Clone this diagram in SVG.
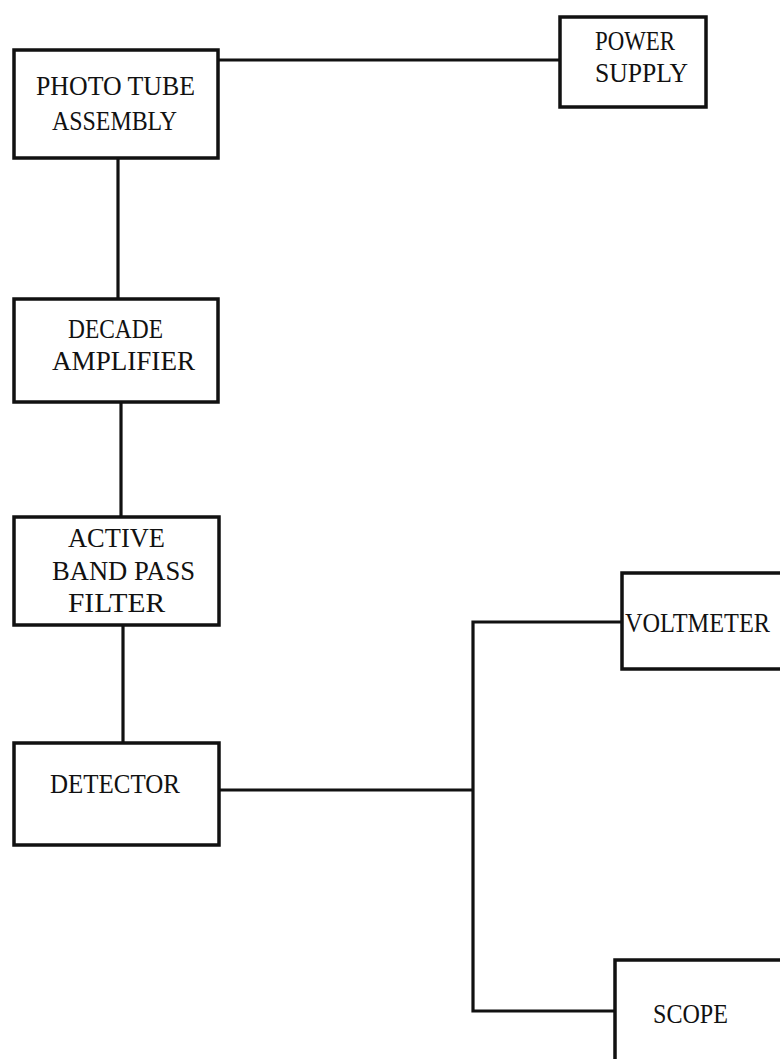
<svg xmlns="http://www.w3.org/2000/svg" width="780" height="1059" viewBox="0 0 780 1059">
<style>
.box{fill:#fff;stroke:#111;stroke-width:3.5}
.wire{fill:none;stroke:#111;stroke-width:3.2}
text{font-family:"Liberation Serif","Times New Roman",serif;font-size:27px;fill:#111}
</style>
<rect width="780" height="1059" fill="#fff"/>
<g id="connectors">
<path class="wire" d="M218 60 H560"/>
<path class="wire" d="M118 158 V299"/>
<path class="wire" d="M121 402 V517"/>
<path class="wire" d="M123 625 V743"/>
<path class="wire" d="M219 790 H473"/>
<path class="wire" d="M622 622 H473 V1011 H615"/>
</g>
<g id="photo-tube">
<rect class="box" x="14" y="50" width="204" height="108"/>
<text x="36" y="95" textLength="159" lengthAdjust="spacingAndGlyphs">PHOTO TUBE</text>
<text x="52" y="130" textLength="125" lengthAdjust="spacingAndGlyphs">ASSEMBLY</text>
</g>
<g id="power-supply">
<rect class="box" x="560" y="17" width="146" height="90"/>
<text x="595" y="50" textLength="80" lengthAdjust="spacingAndGlyphs">POWER</text>
<text x="595" y="82" textLength="93" lengthAdjust="spacingAndGlyphs">SUPPLY</text>
</g>
<g id="decade-amplifier">
<rect class="box" x="14" y="299" width="204" height="103"/>
<text x="68" y="338" textLength="95" lengthAdjust="spacingAndGlyphs">DECADE</text>
<text x="52" y="370" textLength="143" lengthAdjust="spacingAndGlyphs">AMPLIFIER</text>
</g>
<g id="band-pass-filter">
<rect class="box" x="14" y="517" width="205" height="108"/>
<text x="68" y="547" textLength="97" lengthAdjust="spacingAndGlyphs">ACTIVE</text>
<text x="52" y="580" textLength="143" lengthAdjust="spacingAndGlyphs">BAND PASS</text>
<text x="68" y="612" textLength="97" lengthAdjust="spacingAndGlyphs">FILTER</text>
</g>
<g id="detector">
<rect class="box" x="14" y="743" width="205" height="102"/>
<text x="50" y="793" textLength="130" lengthAdjust="spacingAndGlyphs">DETECTOR</text>
</g>
<g id="voltmeter">
<path class="box" d="M790 573 H622 V669 H790"/>
<text x="625" y="632" textLength="145" lengthAdjust="spacingAndGlyphs">VOLTMETER</text>
</g>
<g id="scope">
<path class="box" d="M790 960 H615 V1070"/>
<text x="653" y="1023" textLength="75" lengthAdjust="spacingAndGlyphs">SCOPE</text>
</g>
</svg>
